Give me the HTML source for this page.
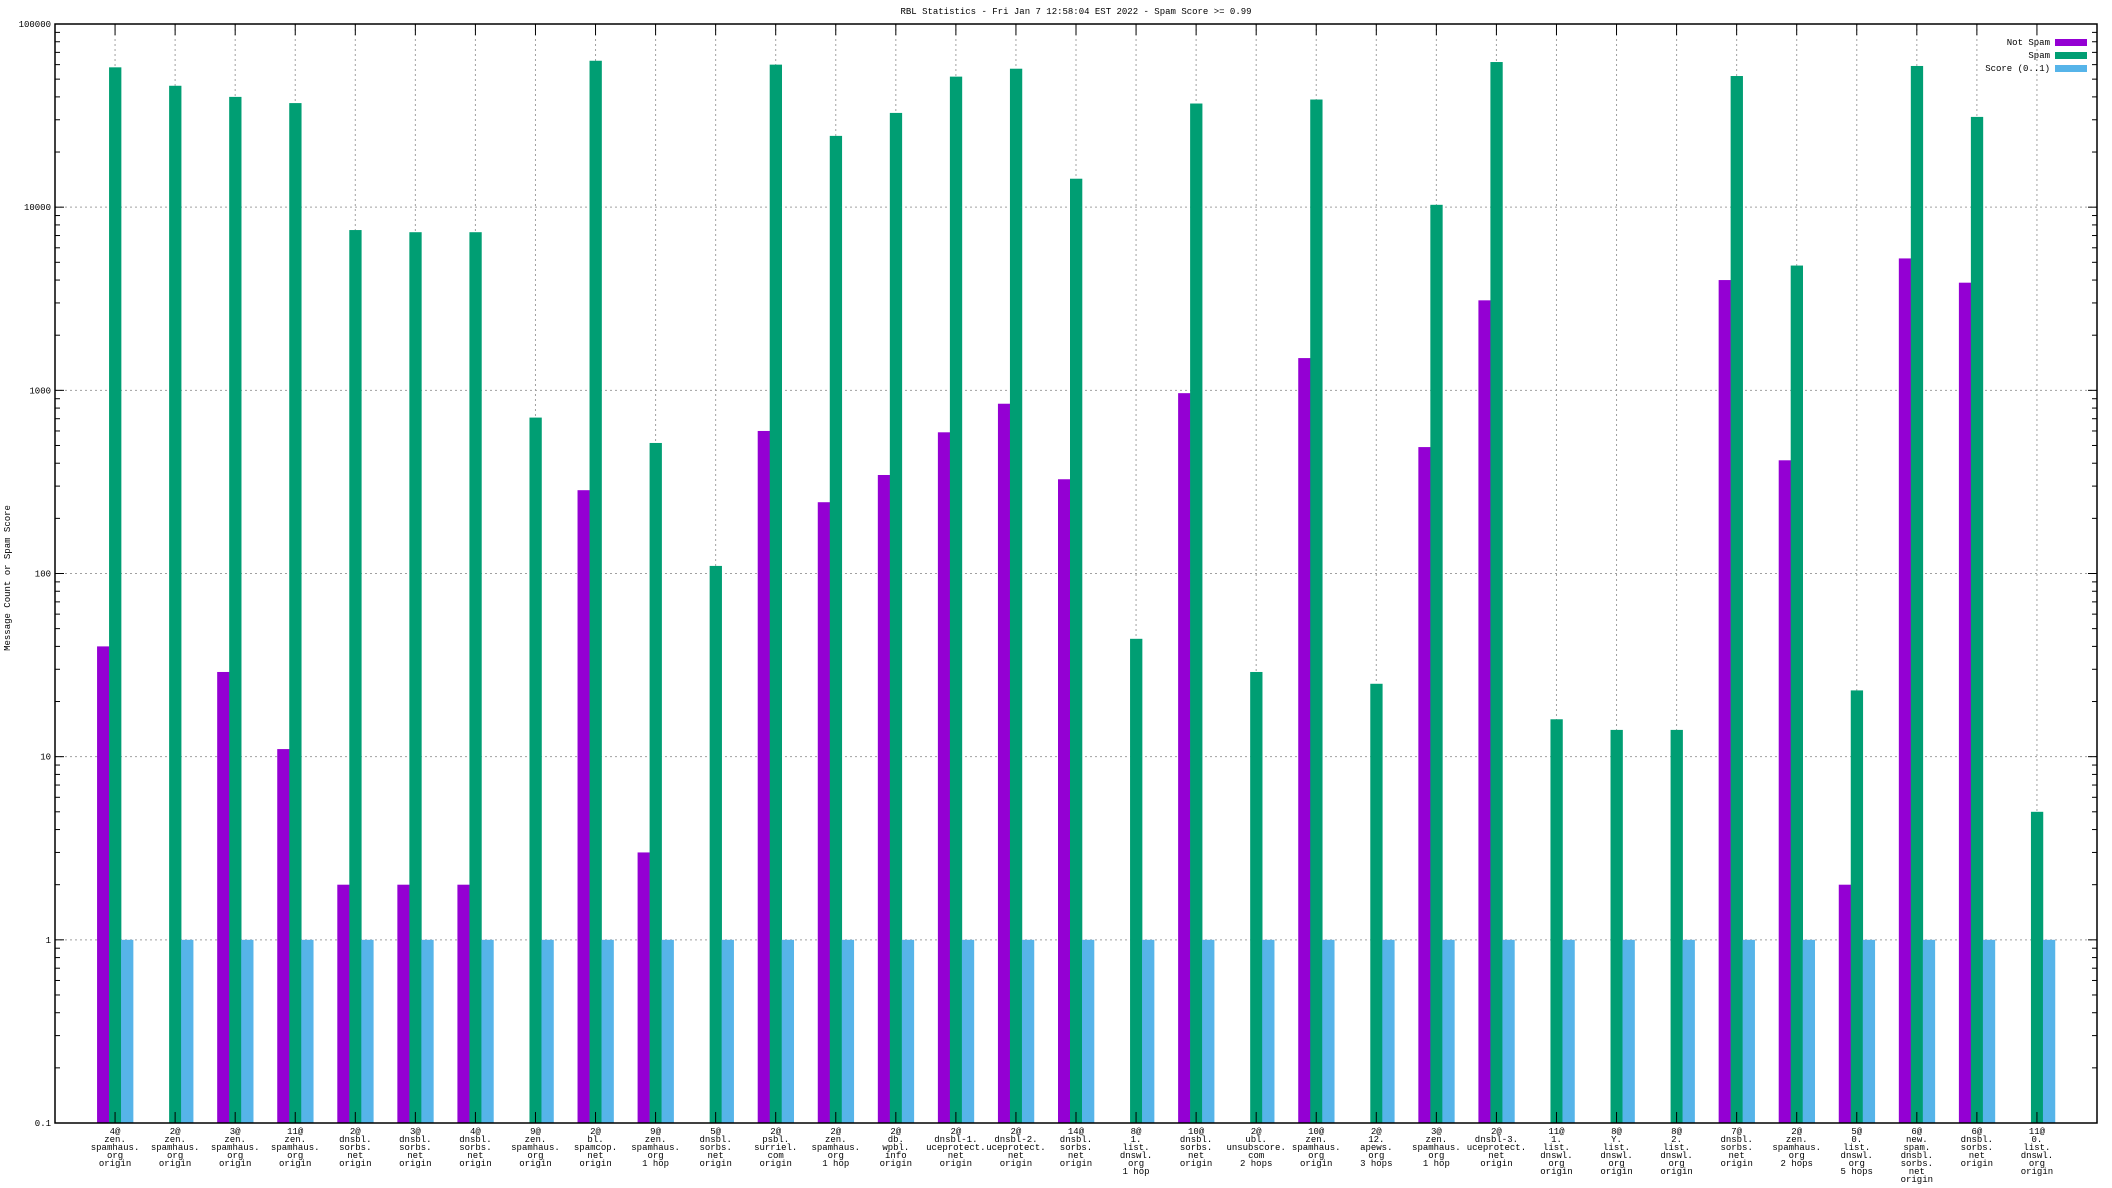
<!DOCTYPE html>
<html><head><meta charset="utf-8"><style>
html,body{margin:0;padding:0;background:#fff;}
svg{display:block;font-family:"Liberation Mono",monospace;}
</style></head><body>
<svg id="chart" width="2112" height="1188" xmlns="http://www.w3.org/2000/svg">
<text x="1076" y="14" font-size="9" text-anchor="middle">RBL Statistics - Fri Jan  7 12:58:04 EST 2022 - Spam Score &gt;= 0.99</text>
<text x="0" y="0" font-size="9" text-anchor="middle" transform="translate(10,578) rotate(-90)">Message Count or Spam Score</text>
<g id="grid"></g><g id="bars"></g><g id="axes"></g><g id="labels"></g>
<g>
<text x="2050" y="45" font-size="9" text-anchor="end">Not Spam</text>
<rect x="2055" y="39" width="32" height="7" fill="#9400d3"/>
<text x="2050" y="58" font-size="9" text-anchor="end">Spam</text>
<rect x="2055" y="52" width="32" height="7" fill="#009e73"/>
<text x="2050" y="71" font-size="9" text-anchor="end">Score (0..1)</text>
<rect x="2055" y="65" width="32" height="7" fill="#56b4e9"/>
</g>
</svg>
<script>
const categories = [
["4@","zen.","spamhaus.","org","origin"],["2@","zen.","spamhaus.","org","origin"],["3@","zen.","spamhaus.","org","origin"],["11@","zen.","spamhaus.","org","origin"],
["2@","dnsbl.","sorbs.","net","origin"],["3@","dnsbl.","sorbs.","net","origin"],["4@","dnsbl.","sorbs.","net","origin"],["9@","zen.","spamhaus.","org","origin"],
["2@","bl.","spamcop.","net","origin"],["9@","zen.","spamhaus.","org","1 hop"],["5@","dnsbl.","sorbs.","net","origin"],["2@","psbl.","surriel.","com","origin"],
["2@","zen.","spamhaus.","org","1 hop"],["2@","db.","wpbl.","info","origin"],["2@","dnsbl-1.","uceprotect.","net","origin"],["2@","dnsbl-2.","uceprotect.","net","origin"],
["14@","dnsbl.","sorbs.","net","origin"],["8@","1.","list.","dnswl.","org","1 hop"],["10@","dnsbl.","sorbs.","net","origin"],["2@","ubl.","unsubscore.","com","2 hops"],
["10@","zen.","spamhaus.","org","origin"],["2@","12.","apews.","org","3 hops"],["3@","zen.","spamhaus.","org","1 hop"],["2@","dnsbl-3.","uceprotect.","net","origin"],
["11@","1.","list.","dnswl.","org","origin"],["8@","Y.","list.","dnswl.","org","origin"],["8@","2.","list.","dnswl.","org","origin"],["7@","dnsbl.","sorbs.","net","origin"],
["2@","zen.","spamhaus.","org","2 hops"],["5@","0.","list.","dnswl.","org","5 hops"],["6@","new.","spam.","dnsbl.","sorbs.","net","origin"],["6@","dnsbl.","sorbs.","net","origin"],
["11@","0.","list.","dnswl.","org","origin"]];
const notSpam = [40,null,29,11,2,2,2,null,285,3,null,600,245,345,590,845,327,null,965,null,1500,null,490,3100,null,null,null,4000,415,2,5250,3870,null];
const spam = [58000,46000,40000,37000,7500,7300,7300,710,63000,516,110,60000,24500,32700,51600,57000,14300,44,36800,29,38700,25,10300,62000,16,14,14,52000,4800,23,59000,31100,5];
const score = [1,1,1,1,1,1,1,1,1,1,1,1,1,1,1,1,1,1,1,1,1,1,1,1,1,1,1,1,1,1,1,1,1];
const yTickLabels = ["0.1","1","10","100","1000","10000","100000"];

const L=55,R=2097,T=24,B=1123,NS="http://www.w3.org/2000/svg";
const n=categories.length, slot=(R-L)/(n+1);
function xPos(i){return L+slot*(i+1);}
function yPos(v){return B-(Math.log10(v)+1)/6*(B-T);}
function mk(tag,attrs,parent){const e=document.createElementNS(NS,tag);for(const k in attrs)e.setAttribute(k,attrs[k]);parent.appendChild(e);return e;}
const grid=document.getElementById('grid'),bars=document.getElementById('bars'),axes=document.getElementById('axes'),labels=document.getElementById('labels');
// grid
yTickLabels.forEach((t,k)=>{const y=yPos(parseFloat(t));
 if(k>0&&k<6){const g=mk('line',{x1:L,x2:R,y1:y,y2:y,stroke:'#a0a0a0','stroke-dasharray':'2,3','stroke-width':1},grid);
 
 }
 const tl=mk('text',{x:L-4,y:y+3,'font-size':9,'text-anchor':'end'},axes);tl.textContent=t;
 
 
 for(const side of [L,R]){const d=side===L?1:-1;
  mk('line',{x1:side,x2:side+d*9,y1:y,y2:y,stroke:'#000'},axes);
  if(k<6){for(let m=2;m<=9;m++){const ym=yPos(parseFloat(t)*m);mk('line',{x1:side,x2:side+d*5,y1:ym,y2:ym,stroke:'#000'},axes);}}}
});
categories.forEach((c,i)=>{const x=xPos(i);
 const g=mk('line',{x1:x,x2:x,y1:T,y2:B,stroke:'#a0a0a0','stroke-dasharray':'2,3'},grid);
 
 
 mk('line',{x1:x,x2:x,y1:T,y2:T+11,stroke:'#000'},axes);
 mk('line',{x1:x,x2:x,y1:B,y2:B-11,stroke:'#000'},axes);
 const series=[[notSpam[i],'#9400d3',-18,'bar-not-spam'],[spam[i],'#009e73',-6,'bar-spam'],[score[i],'#56b4e9',6,'bar-score']];
 series.forEach(s=>{if(s[0]==null)return;const y=yPos(s[0]);
  const r=mk('rect',{x:x+s[2],y:y,width:12.3,height:B-y,fill:s[1]},bars);
  
  });
 const t=mk('text',{x:x,y:B+11,'font-size':9,'text-anchor':'middle'},labels);
 
 
 c.forEach((line,j)=>{const ts=mk('tspan',{x:x,y:B+11+j*8},t);ts.textContent=line;});
});
const fr=mk('rect',{x:L,y:T,width:R-L,height:B-T,fill:'none',stroke:'#000','stroke-width':1.5},axes);


</script>
</body></html>
